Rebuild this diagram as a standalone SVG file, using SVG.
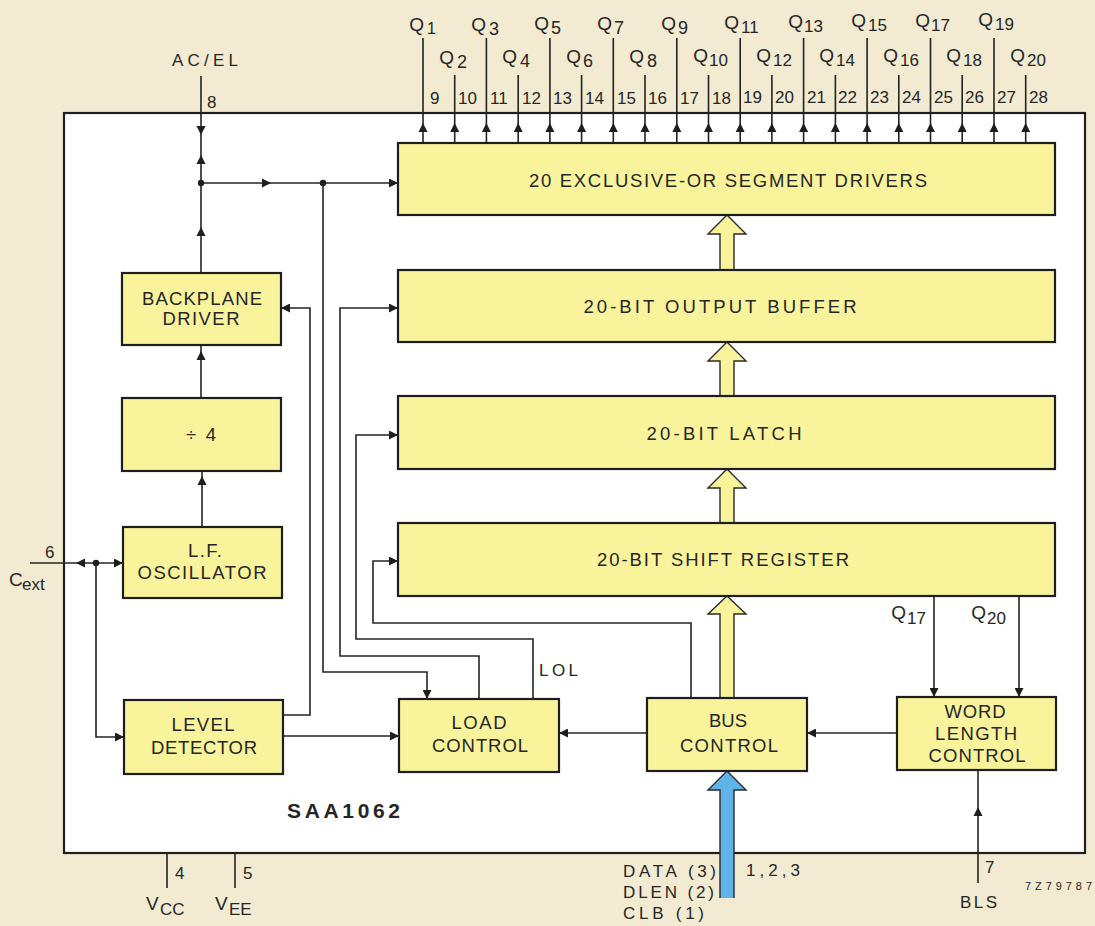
<svg xmlns="http://www.w3.org/2000/svg" xmlns:xlink="http://www.w3.org/1999/xlink" width="1095" height="926" viewBox="0 0 1095 926">
<defs>
<style>
.ln{fill:none;stroke:#232323;stroke-width:1.6}
.box{fill:#f9f49c;stroke:#1e1e1e;stroke-width:2.2}
.t{font-family:"Liberation Sans",Arial,sans-serif;font-size:18.5px;fill:#262626}
.s{font-family:"Liberation Sans",Arial,sans-serif;font-size:17px;fill:#262626}
.q{font-family:"Liberation Sans",Arial,sans-serif;font-size:19px;fill:#262626}
.c{text-anchor:middle}
.wide{fill:#f9f49c;stroke:#2a2a2a;stroke-width:1.4}
.blue{fill:#5fb3e6;stroke:#2a2a2a;stroke-width:1.4}
</style>
<marker id="arr" viewBox="0 0 10 10" refX="10" refY="5" markerWidth="9" markerHeight="9" markerUnits="userSpaceOnUse" orient="auto"><path d="M0,0 L10,5 L0,10 z" fill="#1e1e1e"/></marker>
<path id="ah" d="M0,0 L-9,-4.5 L-9,4.5 Z" fill="#1e1e1e"/>
</defs>
<rect width="1095" height="926" fill="#f2ebd2"/>
<rect x="64" y="113" width="1021" height="740" fill="#ffffff" stroke="#1e1e1e" stroke-width="2.2"/>

<g id="connectors">
<path class="ln" d="M423,38V143M454.7,75V143M486.4,38V143M518.2,75V143M549.9,38V143M581.6,75V143M613.3,38V143M645,75V143M676.8,38V143M708.5,75V143M740.2,38V143M771.9,75V143M803.6,38V143M835.4,75V143M867.1,38V143M898.8,75V143M930.5,38V143M962.2,75V143M994,38V143M1025.7,75V143"/>
<g>
<use href="#ah" transform="translate(423,123) rotate(-90)"/>
<use href="#ah" transform="translate(454.7,123) rotate(-90)"/>
<use href="#ah" transform="translate(486.4,123) rotate(-90)"/>
<use href="#ah" transform="translate(518.2,123) rotate(-90)"/>
<use href="#ah" transform="translate(549.9,123) rotate(-90)"/>
<use href="#ah" transform="translate(581.6,123) rotate(-90)"/>
<use href="#ah" transform="translate(613.3,123) rotate(-90)"/>
<use href="#ah" transform="translate(645,123) rotate(-90)"/>
<use href="#ah" transform="translate(676.8,123) rotate(-90)"/>
<use href="#ah" transform="translate(708.5,123) rotate(-90)"/>
<use href="#ah" transform="translate(740.2,123) rotate(-90)"/>
<use href="#ah" transform="translate(771.9,123) rotate(-90)"/>
<use href="#ah" transform="translate(803.6,123) rotate(-90)"/>
<use href="#ah" transform="translate(835.4,123) rotate(-90)"/>
<use href="#ah" transform="translate(867.1,123) rotate(-90)"/>
<use href="#ah" transform="translate(898.8,123) rotate(-90)"/>
<use href="#ah" transform="translate(930.5,123) rotate(-90)"/>
<use href="#ah" transform="translate(962.2,123) rotate(-90)"/>
<use href="#ah" transform="translate(994,123) rotate(-90)"/>
<use href="#ah" transform="translate(1025.7,123) rotate(-90)"/>
</g>
<path class="ln" d="M201,76V273"/>
<use href="#ah" transform="translate(201,135) rotate(90)"/>
<use href="#ah" transform="translate(201,155) rotate(-90)"/>
<use href="#ah" transform="translate(201,227) rotate(-90)"/>
<path class="ln" d="M201,183H398" marker-end="url(#arr)"/>
<use href="#ah" transform="translate(271,183)"/>
<circle cx="201" cy="183" r="3.2" fill="#1e1e1e"/>
<circle cx="323" cy="183" r="3.2" fill="#1e1e1e"/>
<path class="ln" d="M323,183V672H427V699" marker-end="url(#arr)"/>
<path class="ln" d="M283,715H310V308H281" marker-end="url(#arr)"/>
<path class="ln" d="M479,699V656H340V308H398" marker-end="url(#arr)"/>
<path class="ln" d="M533,699V639H356V435H398" marker-end="url(#arr)"/>
<path class="ln" d="M691,698V623H373V561H398" marker-end="url(#arr)"/>
<path class="ln" d="M283,736H399" marker-end="url(#arr)"/>
<path class="ln" d="M647,733H559" marker-end="url(#arr)"/>
<path class="ln" d="M897,733H807" marker-end="url(#arr)"/>
<path class="ln" d="M934,596V697" marker-end="url(#arr)"/>
<path class="ln" d="M1019,596V697" marker-end="url(#arr)"/>
<path class="ln" d="M978,883V770"/>
<use href="#ah" transform="translate(978,807) rotate(-90)"/>
<path class="ln" d="M30,563H123" marker-end="url(#arr)"/>
<use href="#ah" transform="translate(76,563) rotate(180)"/>
<circle cx="96" cy="563" r="3.2" fill="#1e1e1e"/>
<path class="ln" d="M96,563V737H124" marker-end="url(#arr)"/>
<path class="ln" d="M202,527V471"/>
<use href="#ah" transform="translate(202,476) rotate(-90)"/>
<path class="ln" d="M201,398V345"/>
<use href="#ah" transform="translate(201,351) rotate(-90)"/>
<path class="ln" d="M167,853V888M235,853V888"/>
<path class="wide" d="M720,270V234H708L727,215L746,234H734V270"/>
<path class="wide" d="M720,396V361H708L727,342L746,361H734V396"/>
<path class="wide" d="M720,523V488H708L727,469L746,488H734V523"/>
<path class="wide" d="M720,698V614H708L727,596L746,614H734V698"/>
<path class="blue" d="M720,898V790H708L727,771L746,790H734V898"/>
</g>

<g id="seg_drivers"><rect class="box" x="398" y="143" width="657" height="72"/><text class="t c" x="728" y="187" textLength="398" lengthAdjust="spacing">20 EXCLUSIVE-OR SEGMENT DRIVERS</text></g>
<g id="output_buffer"><rect class="box" x="398" y="270" width="657" height="72"/><text class="t c" x="720" y="313" textLength="273" lengthAdjust="spacing">20-BIT OUTPUT BUFFER</text></g>
<g id="latch"><rect class="box" x="398" y="396" width="657" height="73"/><text class="t c" x="724" y="440" textLength="155" lengthAdjust="spacing">20-BIT LATCH</text></g>
<g id="shift_register"><rect class="box" x="398" y="523" width="657" height="73"/><text class="t c" x="723" y="566" textLength="252" lengthAdjust="spacing">20-BIT SHIFT REGISTER</text></g>

<g id="backplane_driver"><rect class="box" x="122" y="273" width="159" height="72"/><text class="t c" x="202" y="305" textLength="120" lengthAdjust="spacing">BACKPLANE</text><text class="t c" x="201" y="325" textLength="77" lengthAdjust="spacing">DRIVER</text></g>
<g id="divide4"><rect class="box" x="122" y="398" width="159" height="73"/><text class="t c" x="201" y="441" textLength="30" lengthAdjust="spacing">÷4</text></g>
<g id="lf_oscillator"><rect class="box" x="123" y="527" width="159" height="71"/><text class="t c" x="205" y="557" textLength="34" lengthAdjust="spacing">L.F.</text><text class="t c" x="202" y="579" textLength="129" lengthAdjust="spacing">OSCILLATOR</text></g>
<g id="level_detector"><rect class="box" x="124" y="700" width="159" height="74"/><text class="t c" x="203" y="731" textLength="63" lengthAdjust="spacing">LEVEL</text><text class="t c" x="204" y="754" textLength="106" lengthAdjust="spacing">DETECTOR</text></g>
<g id="load_control"><rect class="box" x="399" y="699" width="160" height="73"/><text class="t c" x="479" y="729" textLength="55" lengthAdjust="spacing">LOAD</text><text class="t c" x="480" y="752" textLength="96" lengthAdjust="spacing">CONTROL</text></g>
<g id="bus_control"><rect class="box" x="647" y="698" width="160" height="73"/><text class="t c" x="728" y="727" textLength="38" lengthAdjust="spacing">BUS</text><text class="t c" x="729" y="752" textLength="98" lengthAdjust="spacing">CONTROL</text></g>
<g id="word_length_control"><rect class="box" x="897" y="697" width="159" height="73"/><text class="t c" x="975" y="718" textLength="61" lengthAdjust="spacing">WORD</text><text class="t c" x="976" y="740" textLength="82" lengthAdjust="spacing">LENGTH</text><text class="t c" x="977" y="762" textLength="97" lengthAdjust="spacing">CONTROL</text></g>

<g id="labels">
<g class="q">
<text x="424" y="31" text-anchor="end">Q</text><text x="427" y="34" font-size="16">1</text>
<text x="486" y="31" text-anchor="end">Q</text><text x="489" y="35" font-size="18">3</text>
<text x="549" y="30" text-anchor="end">Q</text><text x="551" y="34" font-size="18">5</text>
<text x="612" y="30" text-anchor="end">Q</text><text x="614" y="34" font-size="18">7</text>
<text x="676" y="30" text-anchor="end">Q</text><text x="678" y="34" font-size="18">9</text>
<text x="739" y="29" text-anchor="end">Q</text><text x="741" y="33" font-size="17">11</text>
<text x="803" y="28" text-anchor="end">Q</text><text x="804" y="32" font-size="17">13</text>
<text x="866" y="27" text-anchor="end">Q</text><text x="868" y="31" font-size="17">15</text>
<text x="930" y="27" text-anchor="end">Q</text><text x="931" y="31" font-size="17">17</text>
<text x="993" y="26" text-anchor="end">Q</text><text x="995" y="30" font-size="17">19</text>
<text x="454" y="64" text-anchor="end">Q</text><text x="457" y="68" font-size="18">2</text>
<text x="517" y="63" text-anchor="end">Q</text><text x="520" y="67" font-size="18">4</text>
<text x="581" y="63" text-anchor="end">Q</text><text x="583" y="67" font-size="18">6</text>
<text x="644" y="63" text-anchor="end">Q</text><text x="647" y="67" font-size="18">8</text>
<text x="708" y="62" text-anchor="end">Q</text><text x="709" y="66" font-size="17">10</text>
<text x="771" y="62" text-anchor="end">Q</text><text x="773" y="66" font-size="17">12</text>
<text x="834" y="62" text-anchor="end">Q</text><text x="836" y="66" font-size="17">14</text>
<text x="898" y="62" text-anchor="end">Q</text><text x="900" y="66" font-size="17">16</text>
<text x="961" y="62" text-anchor="end">Q</text><text x="963" y="66" font-size="17">18</text>
<text x="1025" y="62" text-anchor="end">Q</text><text x="1027" y="66" font-size="17">20</text>
</g>
<g class="s">
<text x="430" y="104">9</text>
<text x="458" y="104">10</text>
<text x="490" y="104">11</text>
<text x="522" y="104">12</text>
<text x="553" y="104">13</text>
<text x="585" y="104">14</text>
<text x="617" y="104">15</text>
<text x="648" y="104">16</text>
<text x="680" y="104">17</text>
<text x="712" y="104">18</text>
<text x="743" y="103">19</text>
<text x="775" y="103">20</text>
<text x="807" y="103">21</text>
<text x="838" y="103">22</text>
<text x="870" y="103">23</text>
<text x="902" y="103">24</text>
<text x="934" y="103">25</text>
<text x="965" y="103">26</text>
<text x="997" y="103">27</text>
<text x="1029" y="103">28</text>
</g>
<text class="s" x="172" y="66" textLength="66" lengthAdjust="spacing">AC/EL</text>
<text class="s" x="207" y="108">8</text>
<text class="s" x="45" y="558">6</text>
<text class="q" x="9" y="586">C</text><text class="s" x="22" y="590">ext</text>
<text class="s" x="175" y="879">4</text>
<text class="s" x="243" y="879">5</text>
<text class="q" x="146" y="910">V</text><text class="s" x="160" y="915">CC</text>
<text class="q" x="215" y="910">V</text><text class="s" x="229" y="915">EE</text>
<text class="t" x="287" y="818" style="font-size:21px;font-weight:bold" textLength="113" lengthAdjust="spacing">SAA1062</text>
<text class="s" x="539" y="676" textLength="39" lengthAdjust="spacing">LOL</text>
<text class="q" x="906" y="619" text-anchor="end">Q</text><text class="s" x="907" y="624">17</text>
<text class="q" x="986" y="619" text-anchor="end">Q</text><text class="s" x="987" y="624">20</text>
<text class="s" x="623" y="877" textLength="93" lengthAdjust="spacing">DATA (3)</text>
<text class="s" x="623" y="898" textLength="91" lengthAdjust="spacing">DLEN (2)</text>
<text class="s" x="623" y="919" textLength="81" lengthAdjust="spacing">CLB (1)</text>
<text class="s" x="746" y="876" textLength="54" lengthAdjust="spacing">1,2,3</text>
<text class="s" x="985" y="873">7</text>
<text class="s" x="960" y="908" textLength="37" lengthAdjust="spacing">BLS</text>
<text class="s" x="1025" y="890" style="font-size:11px" textLength="67" lengthAdjust="spacing">7Z79787</text>
</g>
</svg>
